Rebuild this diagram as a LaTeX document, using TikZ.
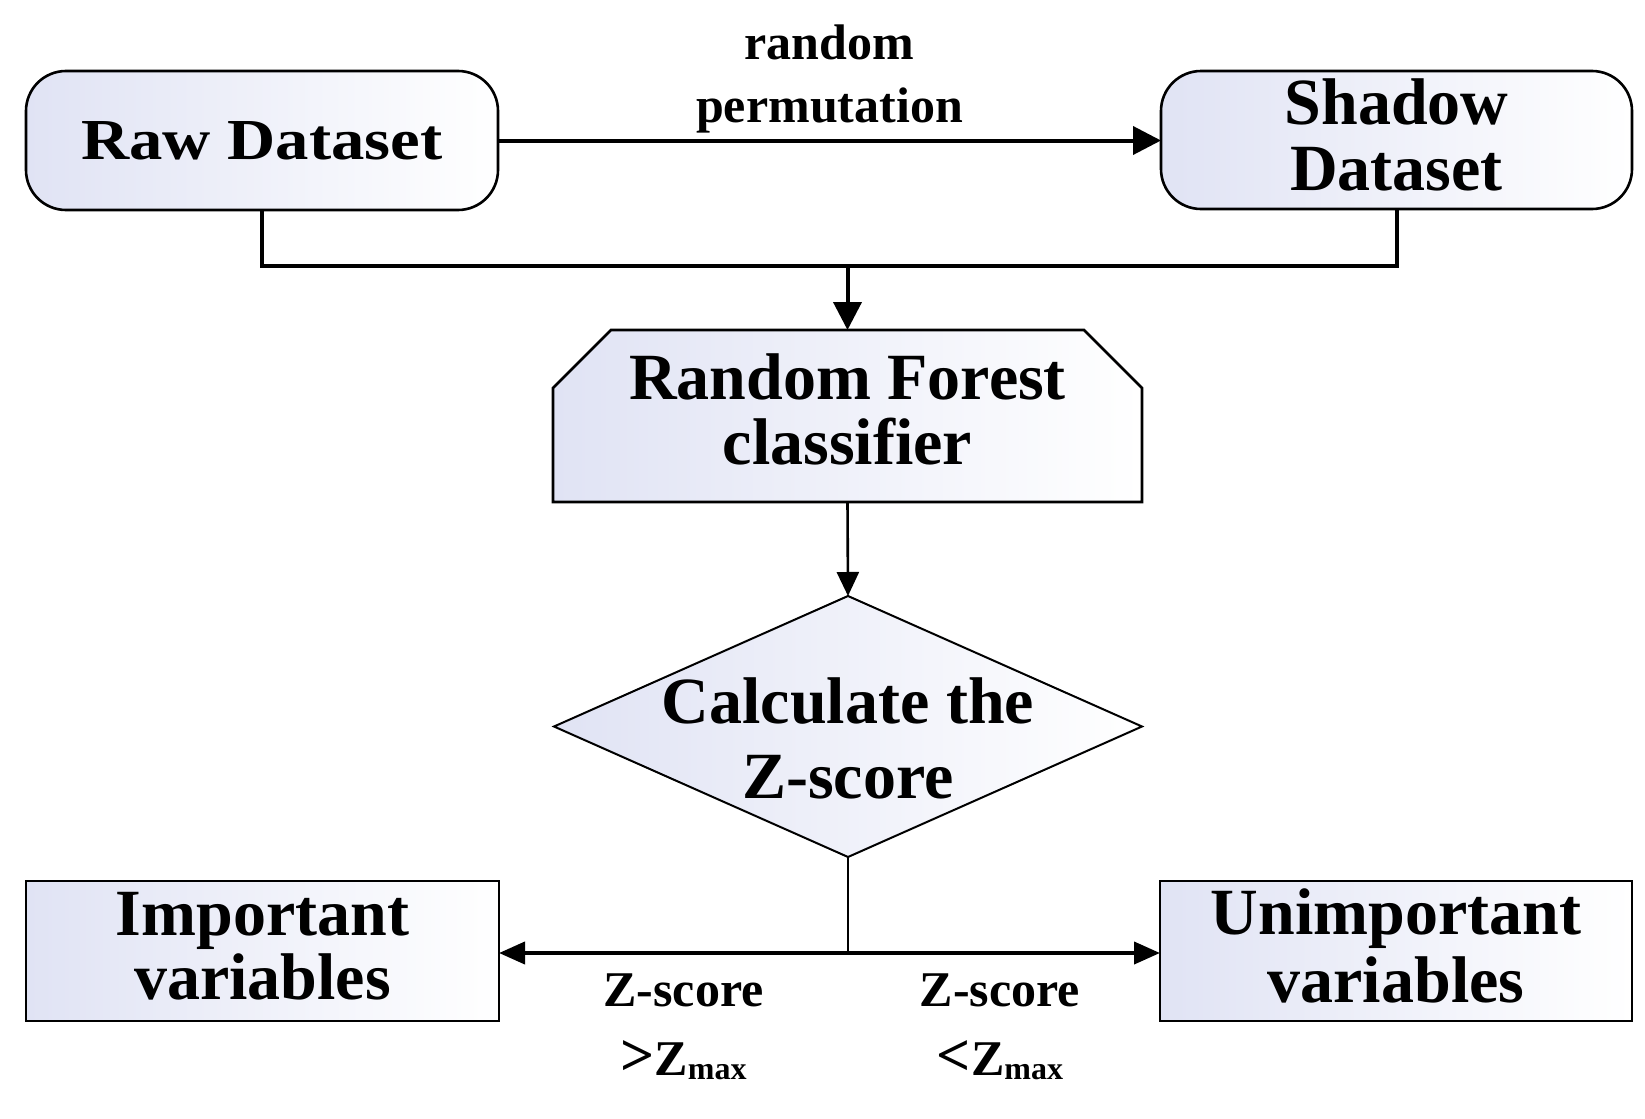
\documentclass[tikz,border=0pt]{standalone}
\usepackage{fontspec}
\setmainfont{Liberation Serif}
\newfontfamily\rawfont[FakeStretch=1.15]{Liberation Serif}
\usetikzlibrary{shapes.geometric,arrows.meta}
\definecolor{boxblue}{RGB}{224,227,244}
\newcommand{\zmaxsub}{{\fontsize{16}{16}\selectfont\raisebox{-2pt}{max}}}
\begin{document}
\begin{tikzpicture}[x=0.5pt,y=-0.5pt,
  boxpaint/.style={draw=black,line width=1.3pt,left color=boxblue,middle color=boxblue!35,right color=white},
  box/.style={boxpaint,inner sep=0pt,outer sep=0pt},
  roundbox/.style={box,rectangle,rounded corners=20pt,minimum width=236pt,minimum height=69.5pt},
  plainbox/.style={box,rectangle,minimum width=236.5pt,minimum height=70pt},
  rfbox/.style={rectangle,inner sep=0pt,outer sep=0pt,minimum width=294.5pt,minimum height=86pt},
  decision/.style={box,diamond,line width=1pt,minimum width=294pt,minimum height=130.5pt},
  boxtext/.style={font=\fontsize{33}{33}\selectfont\bfseries,align=center,inner sep=0pt},
  edgetext/.style={font=\fontsize{25}{34.5}\selectfont\bfseries,align=center,inner sep=0pt},
  conn/.style={line width=2pt},
  thinconn/.style={line width=1.3pt},
  bigtip/.style={-{Triangle[length=14pt,width=14pt]}},
  midtip/.style={-{Triangle[length=12pt,width=11pt]}},
  sidetip/.style={-{Triangle[length=13pt,width=11pt]}}
]
\useasboundingbox (0,0) rectangle (1645,1119);
\fill[white] (0,0) rectangle (1645,1119);

% boxes
\node[roundbox,label={[boxtext,font=\rawfont\fontsize{29}{30}\selectfont\bfseries]center:Raw Dataset}] (raw) at (262,140.5) {};
\node[roundbox,minimum width=235.5pt,minimum height=69pt,label={[boxtext,yshift=2.5pt]center:{Shadow\\Dataset}}] (shadow) at (1396.5,140) {};

\node[rfbox] (rf) at (847.5,416) {};
\path[boxpaint] (rf.south west) -- ([yshift=-29pt]rf.north west) -- ([xshift=29pt]rf.north west)
  -- ([xshift=-29pt]rf.north east) -- ([yshift=-29pt]rf.north east) -- (rf.south east) -- cycle;
\node[boxtext,font=\fontsize{33}{32.5}\selectfont\bfseries,yshift=3.5pt] (rftext) at (rf.center) {Random Forest\\classifier};

\node[decision,label={[boxtext,font=\fontsize{33}{37.5}\selectfont\bfseries,yshift=-6pt]center:{Calculate the\\Z-score}}] (calc) at (848,726.5) {};
\node[plainbox,label={[boxtext,font=\fontsize{33}{32}\selectfont\bfseries,yshift=2.5pt]center:{Important\\variables}}] (imp) at (262.5,951) {};
\node[plainbox,minimum width=236pt,label={[boxtext,font=\fontsize{33}{34}\selectfont\bfseries,yshift=2.5pt]center:{Unimportant\\variables}}] (unimp) at (1396,951) {};

% connectors
\draw[conn,bigtip] (raw.east) -- node[midway,yshift=31pt,font=\fontsize{25}{31.5}\selectfont\bfseries,align=center,inner sep=0pt] (perm) {random\\permutation} (raw.east -| shadow.west);
\coordinate (j) at (847.5,266);
\draw[conn] (raw.south) |- (j) -| (shadow.south);
\draw[conn,bigtip] (j) -- (rf.north);
\draw[thinconn,midtip] (rf.south) -- (calc.north);
\coordinate (s) at (848,953);
\draw[thinconn] (calc.south) -- (s);
\draw[conn,sidetip] (s) -- node[midway,yshift=-37pt,xshift=5pt,edgetext] (gt) {Z-score\\{\fontsize{30}{30}\selectfont >}Z\zmaxsub} (s -| imp.east);
\draw[conn,sidetip] (s) -- node[midway,yshift=-37pt,xshift=-2pt,edgetext] (lt) {Z-score\\{\fontsize{30}{30}\selectfont <}Z\zmaxsub} (s -| unimp.west);
\end{tikzpicture}
\end{document}
